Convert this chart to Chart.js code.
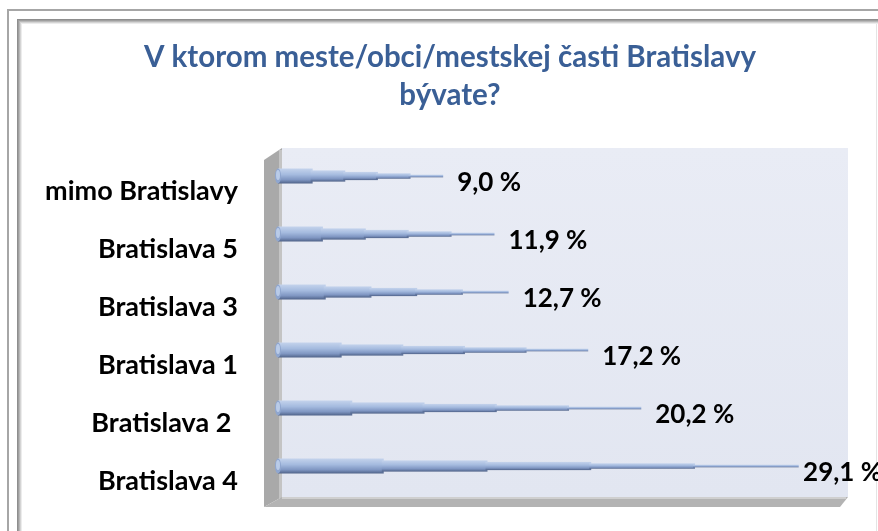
<!DOCTYPE html>
<html>
<head>
<meta charset="utf-8">
<script src="https://cdn.jsdelivr.net/npm/chart.js@4.4.1/dist/chart.umd.min.js"></script>
<style>
  html, body { margin: 0; padding: 0; background: #fff; }
  #wrap { width: 878px; height: 531px; position: relative; }
</style>
</head>
<body>
<div id="wrap"><canvas id="chart"></canvas></div>
<script>
// data
const categories = ['mimo Bratislavy', 'Bratislava 5', 'Bratislava 3', 'Bratislava 1', 'Bratislava 2 ', 'Bratislava 4'];
const shares = [9.0, 11.9, 12.7, 17.2, 20.2, 29.1];
const titleLines = ['V ktorom meste/obci/mestskej časti Bratislavy', 'bývate?'];
const axisMax = 32;

const FONT = 'Lato, "Open Sans", sans-serif';

// frame, title and 3d wall behind the bars
const backdrop = {
    id: 'backdrop',
    beforeDraw(chart) {
        const { ctx, width, height } = chart;
        ctx.save();
        ctx.fillStyle = '#fff';
        ctx.fillRect(0, 0, width, height);
        // outer thin frame
        ctx.fillStyle = '#a6a6a6';
        ctx.fillRect(7, 9, width - 7, 2);
        ctx.fillRect(7, 9, 2, height - 9);
        // inner thicker frame
        const bands = ['#8e8e8e', '#9f9f9f', '#b8b8b8', '#d4d4d4', '#ececec'];
        bands.forEach((c, i) => {
            ctx.fillStyle = c;
            ctx.fillRect(17 + i, 19 + i, width - 17 - i, 1);
            ctx.fillRect(17 + i, 19 + i, 1, height - 19 - i);
        });
        ctx.fillStyle = '#e4e4e4';
        ctx.fillRect(width - 2, 24, 1, height - 24);

        // title (centred on the frame, not the canvas)
        ctx.font = 'bold 29.5px ' + FONT;
        ctx.fillStyle = '#3a5f96';
        ctx.textAlign = 'center';
        ctx.textBaseline = 'middle';
        titleLines.forEach((t, i) => ctx.fillText(t, 450, 57 + i * 38));
        ctx.restore();
    },
    beforeDatasetsDraw(chart) {
        const { ctx, chartArea: a } = chart;
        const d = 18, dy = 10;
        ctx.save();
        // back wall
        const g = ctx.createLinearGradient(0, a.top, 0, a.bottom);
        g.addColorStop(0, '#e9ecf5');
        g.addColorStop(1, '#e2e6f1');
        ctx.fillStyle = g;
        ctx.fillRect(a.left, a.top + 1, a.right - a.left, a.bottom - a.top + 1);
        // side wall
        ctx.fillStyle = '#a9a9a9';
        ctx.beginPath();
        ctx.moveTo(a.left - d, a.top + 1 + dy + 2);
        ctx.lineTo(a.left, a.top + 1);
        ctx.lineTo(a.left, a.bottom + 2);
        ctx.lineTo(a.left - d, a.bottom + 2 + dy);
        ctx.closePath();
        ctx.fill();
        ctx.fillStyle = '#c4c4c4';
        ctx.fillRect(a.left - 3, a.top + 3, 3, a.bottom - a.top);
        // floor
        ctx.fillStyle = '#b3b3b3';
        ctx.beginPath();
        ctx.moveTo(a.left - d, a.bottom + 2 + dy);
        ctx.lineTo(a.left, a.bottom + 2);
        ctx.lineTo(a.right, a.bottom + 2);
        ctx.lineTo(a.right - 8, a.bottom + 2 + dy);
        ctx.closePath();
        ctx.fill();
        ctx.fillStyle = '#cfcfcf';
        ctx.fillRect(a.left, a.bottom + 2, a.right - a.left - 2, 2);
        ctx.restore();
    }
};

// stepped cones in place of the flat bars, with value labels
const cones = {
    id: 'cones',
    afterDatasetsDraw(chart) {
        const { ctx } = chart;
        const meta = chart.getDatasetMeta(0);
        ctx.save();
        meta.data.forEach((bar, i) => {
            const x0 = bar.base - 4, x1 = bar.x, cy = bar.y, h = 7.5;
            const L = x1 - x0;
            const halves = [7.5, 5.6, 4.1, 2.7, 1.3];
            halves.forEach((hk, k) => {
                const xs = x0 + L * k / halves.length;
                const xe = x0 + L * (k + 1) / halves.length + 2;
                const g = ctx.createLinearGradient(0, cy - hk, 0, cy + hk);
                g.addColorStop(0, '#c4d3ec');
                g.addColorStop(0.4, '#a5bbdf');
                g.addColorStop(0.75, '#7f96c2');
                g.addColorStop(1, '#4f6288');
                ctx.fillStyle = g;
                ctx.fillRect(xs, cy - hk, xe - xs, hk * 2);
            });
            // base cap
            ctx.fillStyle = '#8fa6cf';
            ctx.beginPath();
            ctx.ellipse(x0, cy, 3, h, 0, 0, Math.PI * 2);
            ctx.fill();
            ctx.fillStyle = '#b9cbe8';
            ctx.beginPath();
            ctx.ellipse(x0, cy - 1, 2, h - 2.5, 0, 0, Math.PI * 2);
            ctx.fill();

            // value label
            const txt = shares[i].toFixed(1).replace('.', ',') + ' %';
            ctx.font = 'bold 26px ' + FONT;
            ctx.fillStyle = '#000';
            ctx.textBaseline = 'middle';
            ctx.textAlign = 'left';
            const w = ctx.measureText(txt).width;
            const lx = Math.min(x1 + 16, chart.width - w + 4);
            ctx.fillText(txt, lx, cy + 7);
        });
        ctx.restore();
    }
};

new Chart(document.getElementById('chart'), {
    type: 'bar',
    data: {
        labels: categories,
        datasets: [{
            data: shares,
            backgroundColor: 'rgba(0,0,0,0)',
            borderWidth: 0,
            categoryPercentage: 0.3,
            barPercentage: 1
        }]
    },
    options: {
        indexAxis: 'y',
        responsive: true,
        maintainAspectRatio: false,
        animation: false,
        layout: { padding: { left: 20, right: 30, top: 147, bottom: 36 } },
        plugins: {
            legend: { display: false },
            tooltip: { enabled: false },
            title: { display: false }
        },
        scales: {
            x: {
                display: false,
                min: 0,
                max: axisMax
            },
            y: {
                grid: { display: false, drawTicks: false },
                border: { display: false },
                afterFit(scale) {
                    scale.width = 262;
                    scale.paddingTop = 0;
                    scale.paddingBottom = 0;
                },
                ticks: {
                    color: '#000',
                    padding: 44,
                    labelOffset: 15,
                    font: { family: FONT, size: 27, weight: 'bold' }
                }
            }
        }
    },
    plugins: [backdrop, cones]
});
</script>
</body>
</html>
